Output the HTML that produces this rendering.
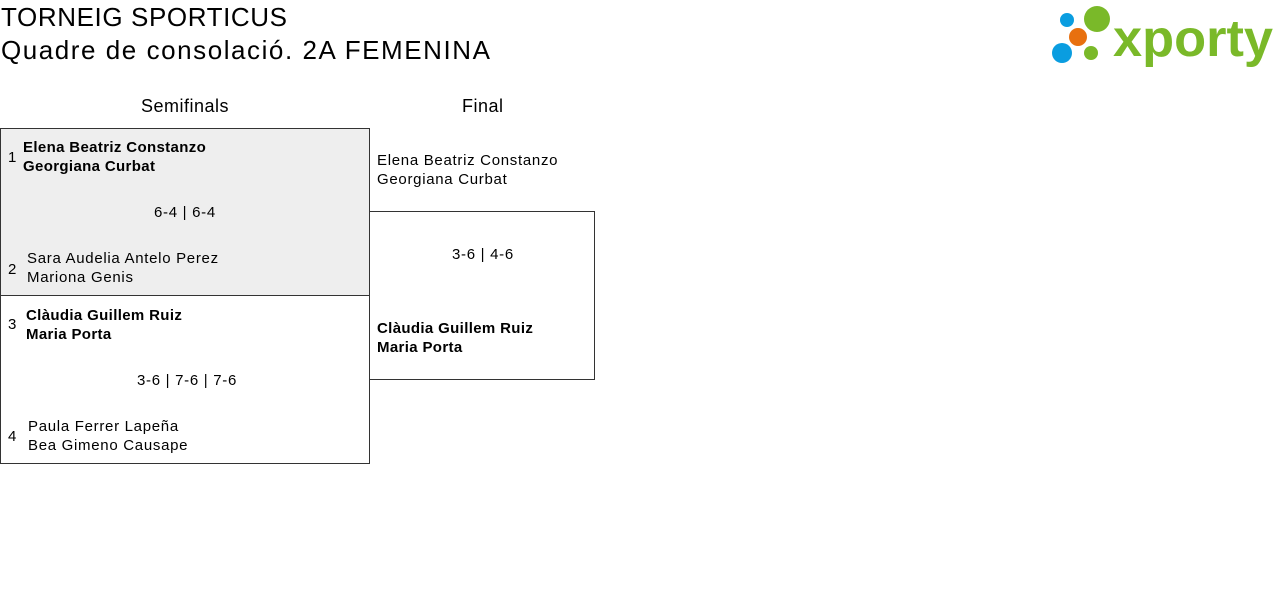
<!DOCTYPE html>
<html><head><meta charset="utf-8"><style>
body{margin:0;width:1280px;height:595px;background:#fff;font-family:"Liberation Sans",sans-serif;color:#000;position:relative;overflow:hidden}
.a{position:absolute;white-space:nowrap}
.t{font-size:26px}
.h{font-size:18px;letter-spacing:0.5px}
.n{font-size:15px;line-height:19px;letter-spacing:0.7px}
.b{font-weight:bold;letter-spacing:0.35px}
.box{position:absolute;border:1px solid #333;box-sizing:border-box}
</style></head><body>
<div class="a t" style="left:1px;top:2px;letter-spacing:0.6px">TORNEIG SPORTICUS</div>
<div class="a t" style="left:1px;top:35px;letter-spacing:1.55px">Quadre de consolació. 2A FEMENINA</div>
<svg class="a" style="left:1040px;top:0" width="240" height="70">
<circle cx="27" cy="20" r="7" fill="#0a9de0"/>
<circle cx="57" cy="19" r="13" fill="#7ab929"/>
<circle cx="38" cy="37" r="9" fill="#e8700f"/>
<circle cx="22" cy="53" r="10" fill="#0a9de0"/>
<circle cx="51" cy="53" r="7" fill="#7ab929"/>
<text x="73" y="56" font-family="Liberation Sans" font-weight="bold" font-size="52" fill="#7ab929" textLength="160" lengthAdjust="spacingAndGlyphs">xporty</text>
</svg>
<div class="a h" style="left:141px;top:96px">Semifinals</div>
<div class="a h" style="left:462px;top:96px">Final</div>
<div class="box" style="left:0;top:128px;width:370px;height:168px;background:#eee"></div>
<div class="box" style="left:0;top:295px;width:370px;height:169px"></div>
<div class="box" style="left:369px;top:211px;width:226px;height:169px"></div>
<div class="a n" style="left:8px;top:148px">1</div>
<div class="a n b" style="left:23px;top:138px">Elena Beatriz Constanzo<br>Georgiana Curbat</div>
<div class="a n" style="left:154px;top:203px">6-4 | 6-4</div>
<div class="a n" style="left:8px;top:260px">2</div>
<div class="a n" style="left:27px;top:249px">Sara Audelia Antelo Perez<br>Mariona Genis</div>
<div class="a n" style="left:8px;top:315px">3</div>
<div class="a n b" style="left:26px;top:306px">Clàudia Guillem Ruiz<br>Maria Porta</div>
<div class="a n" style="left:137px;top:371px">3-6 | 7-6 | 7-6</div>
<div class="a n" style="left:8px;top:427px">4</div>
<div class="a n" style="left:28px;top:417px">Paula Ferrer Lapeña<br>Bea Gimeno Causape</div>
<div class="a n" style="left:377px;top:151px">Elena Beatriz Constanzo<br>Georgiana Curbat</div>
<div class="a n" style="left:452px;top:245px">3-6 | 4-6</div>
<div class="a n b" style="left:377px;top:319px">Clàudia Guillem Ruiz<br>Maria Porta</div>
</body></html>
